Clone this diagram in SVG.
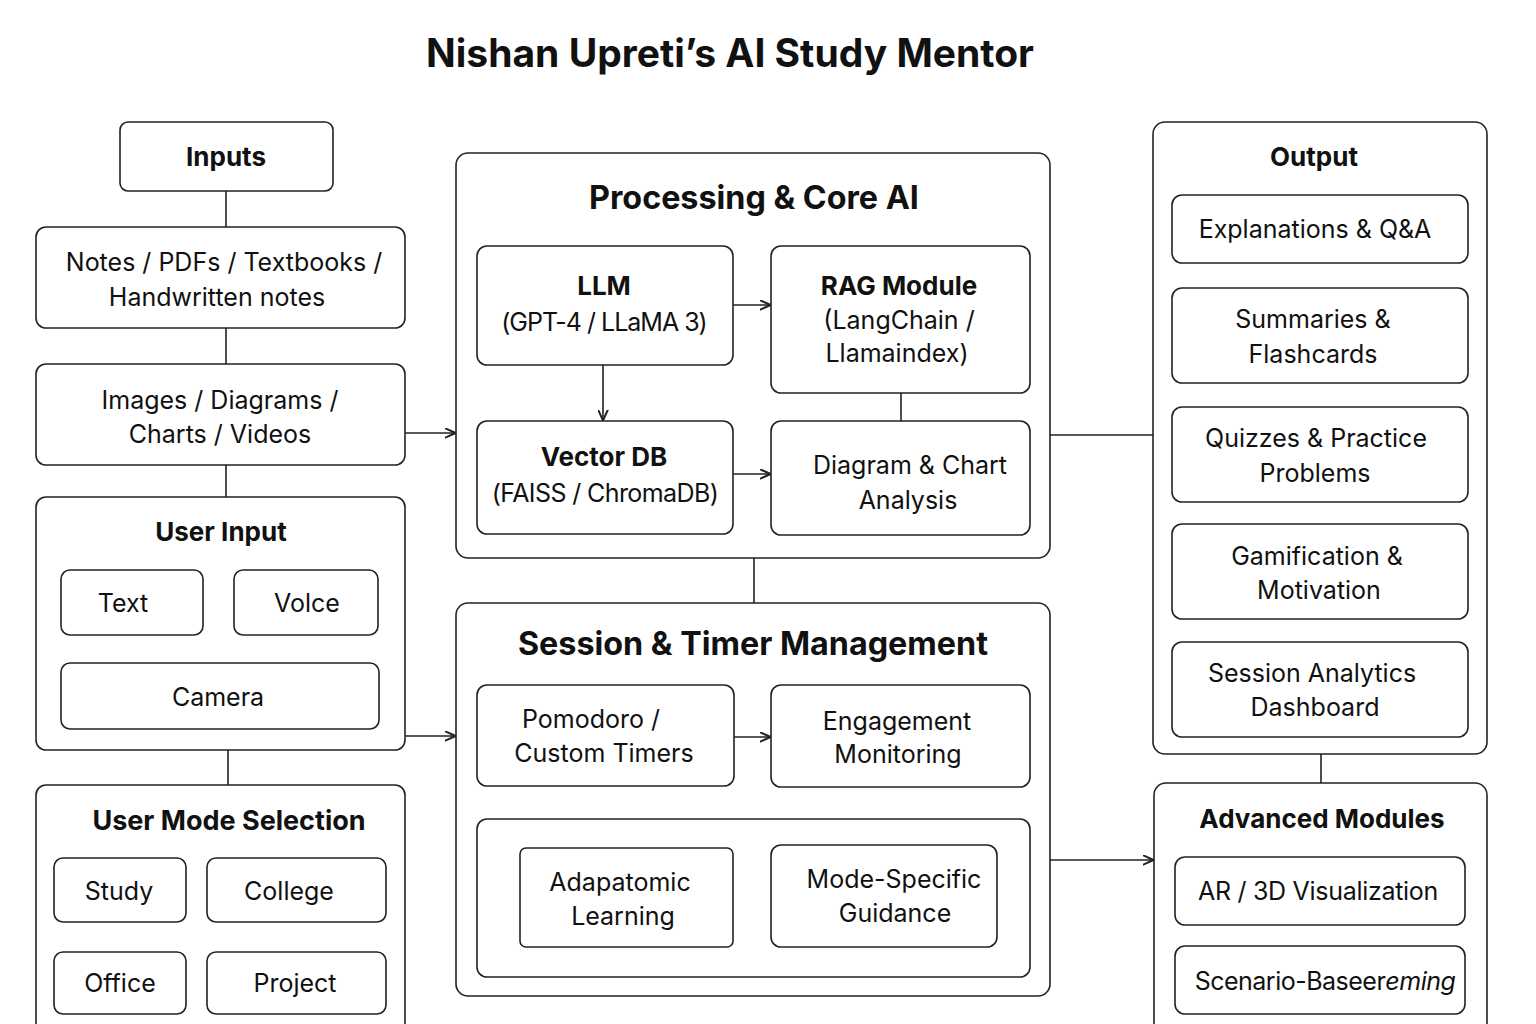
<svg xmlns="http://www.w3.org/2000/svg" width="1536" height="1024" viewBox="0 0 1536 1024">
<defs>
<marker id="arr" viewBox="0 0 10 10" refX="9.5" refY="5" markerWidth="11" markerHeight="11" markerUnits="userSpaceOnUse" orient="auto">
<path d="M0,0.5 L10,5 L0,9.5" fill="none" stroke="#222" stroke-width="1.8"/>
</marker>
<style>
.b{fill:#fff;stroke:#222;stroke-width:1.6}
.t{font-family:Inter,"Noto Sans","Liberation Sans",sans-serif;font-size:25px;fill:#111;text-anchor:middle}
.h{font-family:Inter,"Noto Sans","Liberation Sans",sans-serif;font-size:26px;font-weight:700;fill:#111;text-anchor:middle}
.hl{font-size:32.3px}
.c{fill:none;stroke:#222;stroke-width:1.6}
</style>
</defs>
<rect width="1536" height="1024" fill="#fff"/>
<text class="h" x="730" y="67" style="font-size:39px">Nishan Upreti’s AI Study Mentor</text>

<g id="inputs">
<rect class="b" x="120" y="122" width="213" height="69" rx="8"/>
<text class="h" x="226" y="166">Inputs</text>
</g>
<g id="notes">
<rect class="b" x="36" y="227" width="369" height="101" rx="10"/>
<text class="t" x="224" y="271">Notes  / PDFs / Textbooks /</text>
<text class="t" x="217" y="306">Handwritten notes</text>
</g>
<g id="images">
<rect class="b" x="36" y="364" width="369" height="101" rx="10"/>
<text class="t" x="220" y="409">Images / Diagrams /</text>
<text class="t" x="220" y="443">Charts / Videos</text>
</g>
<g id="user-input">
<rect class="b" x="36" y="497" width="369" height="253" rx="10"/>
<text class="h" x="221" y="541">User Input</text>
<g id="ui-text"><rect class="b" x="61" y="570" width="142" height="65" rx="9"/><text class="t" x="123" y="612">Text</text></g>
<g id="ui-voice"><rect class="b" x="234" y="570" width="144" height="65" rx="9"/><text class="t" x="307" y="612">Volce</text></g>
<g id="ui-camera"><rect class="b" x="61" y="663" width="318" height="66" rx="9"/><text class="t" x="218" y="706">Camera</text></g>
</g>
<g id="user-mode">
<rect class="b" x="36" y="785" width="369" height="250" rx="10"/>
<text class="h" x="229" y="830" style="font-size:27px">User Mode Selection</text>
<g id="m-study"><rect class="b" x="54" y="858" width="132" height="64" rx="9"/><text class="t" x="119" y="900">Study</text></g>
<g id="m-college"><rect class="b" x="207" y="858" width="179" height="64" rx="9"/><text class="t" x="289" y="900">College</text></g>
<g id="m-office"><rect class="b" x="54" y="952" width="132" height="62" rx="9"/><text class="t" x="120" y="992">Office</text></g>
<g id="m-project"><rect class="b" x="207" y="952" width="179" height="62" rx="9"/><text class="t" x="295" y="992">Project</text></g>
</g>

<g id="processing">
<rect class="b" x="456" y="153" width="594" height="405" rx="12"/>
<text class="h hl" x="754" y="209">Processing &amp; Core AI</text>
<g id="llm"><rect class="b" x="477" y="246" width="256" height="119" rx="10"/>
<text class="h" x="604" y="295">LLM</text><text class="t" x="604" y="331" letter-spacing="-1">(GPT-4 / LLaMA 3)</text></g>
<g id="rag"><rect class="b" x="771" y="246" width="259" height="147" rx="10"/>
<text class="h" x="899" y="295">RAG Module</text><text class="t" x="899" y="329">(LangChain /</text><text class="t" x="897" y="362">Llamaindex)</text></g>
<g id="vdb"><rect class="b" x="477" y="421" width="256" height="113" rx="10"/>
<text class="h" x="604" y="466">Vector DB</text><text class="t" x="605" y="502" letter-spacing="-0.6">(FAISS / ChromaDB)</text></g>
<g id="diagram"><rect class="b" x="771" y="421" width="259" height="114" rx="10"/>
<text class="t" x="910" y="474">Diagram &amp; Chart</text><text class="t" x="908" y="509">Analysis</text></g>
</g>

<g id="session">
<rect class="b" x="456" y="603" width="594" height="393" rx="12"/>
<text class="h hl" x="753" y="655">Session &amp; Timer Management</text>
<g id="pomodoro"><rect class="b" x="477" y="685" width="257" height="101" rx="10"/>
<text class="t" x="591" y="728">Pomodoro /</text><text class="t" x="604" y="762">Custom Timers</text></g>
<g id="engagement"><rect class="b" x="771" y="685" width="259" height="102" rx="10"/>
<text class="t" x="897" y="730">Engagement</text><text class="t" x="898" y="763">Monitoring</text></g>
<g id="adaptive-group"><rect class="b" x="477" y="819" width="553" height="158" rx="10"/>
<g id="adapatomic"><rect class="b" x="520" y="848" width="213" height="99" rx="6"/>
<text class="t" x="620" y="891">Adapatomic</text><text class="t" x="623" y="925">Learning</text></g>
<g id="mode-specific"><rect class="b" x="771" y="845" width="226" height="102" rx="10"/>
<text class="t" x="894" y="888">Mode-Specific</text><text class="t" x="895" y="922">Guidance</text></g>
</g>
</g>

<g id="output">
<rect class="b" x="1153" y="122" width="334" height="632" rx="12"/>
<text class="h" x="1314" y="166">Output</text>
<g id="o1"><rect class="b" x="1172" y="195" width="296" height="68" rx="10"/><text class="t" x="1315" y="238">Explanations &amp; Q&amp;A</text></g>
<g id="o2"><rect class="b" x="1172" y="288" width="296" height="95" rx="10"/><text class="t" x="1313" y="328">Summaries &amp;</text><text class="t" x="1313" y="363">Flashcards</text></g>
<g id="o3"><rect class="b" x="1172" y="407" width="296" height="95" rx="10"/><text class="t" x="1316" y="447">Quizzes &amp; Practice</text><text class="t" x="1315" y="482">Problems</text></g>
<g id="o4"><rect class="b" x="1172" y="524" width="296" height="95" rx="10"/><text class="t" x="1317" y="565">Gamification &amp;</text><text class="t" x="1319" y="599">Motivation</text></g>
<g id="o5"><rect class="b" x="1172" y="642" width="296" height="95" rx="10"/><text class="t" x="1312" y="682">Session Analytics</text><text class="t" x="1315" y="716">Dashboard</text></g>
</g>

<g id="advanced">
<rect class="b" x="1154" y="783" width="333" height="260" rx="12"/>
<text class="h" x="1322" y="828">Advanced Modules</text>
<g id="ar"><rect class="b" x="1175" y="857" width="290" height="68" rx="10"/><text class="t" x="1318" y="900" letter-spacing="-0.3">AR / 3D Visualization</text></g>
<g id="scenario"><rect class="b" x="1175" y="946" width="290" height="68" rx="10"/><text class="t" x="1325" y="990" letter-spacing="-0.5">Scenario-Baseer<tspan font-style="italic">eming</tspan></text></g>
</g>

<g id="connectors">
<line class="c" x1="226" y1="191" x2="226" y2="227"/>
<line class="c" x1="226" y1="328" x2="226" y2="364"/>
<line class="c" x1="226" y1="465" x2="226" y2="497"/>
<line class="c" x1="228" y1="750" x2="228" y2="785"/>
<line class="c" x1="405" y1="433" x2="455" y2="433" marker-end="url(#arr)"/>
<line class="c" x1="405" y1="736" x2="455" y2="736" marker-end="url(#arr)"/>
<line class="c" x1="733" y1="305" x2="770" y2="305" marker-end="url(#arr)"/>
<line class="c" x1="603" y1="365" x2="603" y2="420" marker-end="url(#arr)"/>
<line class="c" x1="901" y1="393" x2="901" y2="421"/>
<line class="c" x1="733" y1="474" x2="770" y2="474" marker-end="url(#arr)"/>
<line class="c" x1="754" y1="558" x2="754" y2="603"/>
<line class="c" x1="734" y1="737" x2="770" y2="737" marker-end="url(#arr)"/>
<line class="c" x1="1050" y1="435" x2="1153" y2="435"/>
<line class="c" x1="1050" y1="860" x2="1153" y2="860" marker-end="url(#arr)"/>
<line class="c" x1="1321" y1="754" x2="1321" y2="783"/>
</g>
</svg>
